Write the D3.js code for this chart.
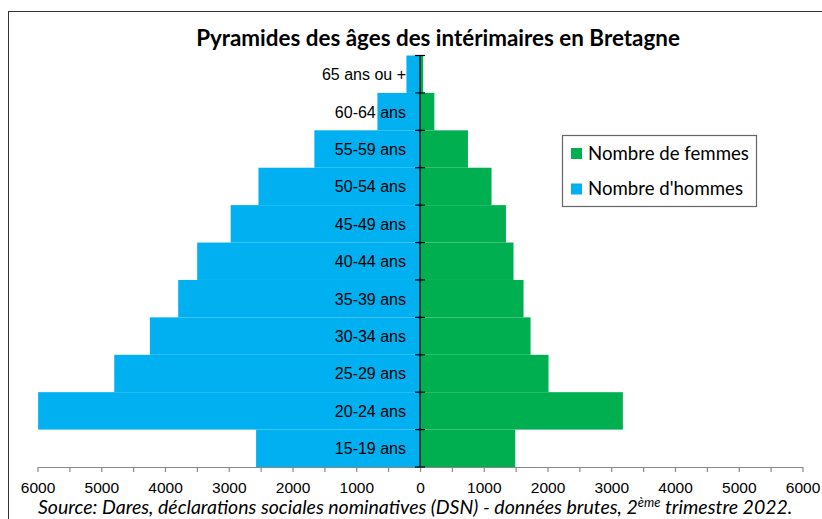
<!DOCTYPE html>
<html>
<head>
<meta charset="utf-8">
<script src="https://cdn.jsdelivr.net/npm/d3@7"></script>
<style>
  html, body { margin: 0; padding: 0; background: #fff; }
  svg { display: block; }
</style>
</head>
<body>
<svg id="chart" width="822" height="519"></svg>
<script>
// ---- Data ----
const categories = ["65 ans ou +", "60-64 ans", "55-59 ans", "50-54 ans", "45-49 ans", "40-44 ans",
                    "35-39 ans", "30-34 ans", "25-29 ans", "20-24 ans", "15-19 ans"];
const hommes = [213, 668, 1657, 2534, 2970, 3495, 3793, 4237, 4796, 5990, 2571];
const femmes = [50, 225, 752, 1122, 1348, 1467, 1624, 1734, 2016, 3182, 1494];
const tickValues = d3.range(-6000, 6001, 500);
const titleText = "Pyramides des âges des intérimaires en Bretagne";
const legendLabels = ["Nombre de femmes", "Nombre d'hommes"];

// ---- Layout ----
const W = 822, H = 519;
const svg = d3.select("#chart");
const colH = "#00B0F0", colF = "#00B050";

const x = d3.scaleLinear().domain([-6000, 6000]).range([37.5, 802.5]);
const y = d3.scaleBand().domain(categories).range([55.5, 467]).padding(0);

// frame
svg.append("rect").attr("x", 8.5).attr("y", 11.5).attr("width", 830).attr("height", 520)
  .attr("fill", "none").attr("stroke", "#333").attr("stroke-width", 1);

// Title
const title = svg.append("text").attr("x", 438).attr("y", 45.5).attr("text-anchor", "middle")
  .attr("font-family", "Lato, 'Open Sans', sans-serif").attr("font-weight", "bold")
  .attr("font-size", 21).attr("fill", "#000").text(titleText);
function fitWidth(sel, target) {
  const n = sel.node();
  const fs = parseFloat(sel.attr("font-size"));
  const w = n.getComputedTextLength();
  if (w > 0) sel.attr("font-size", (fs * target / w).toFixed(2));
}
fitWidth(title, 484);

// Bars - hommes (left)
svg.append("g").selectAll("rect").data(categories).join("rect")
  .attr("x", (d, i) => x(-hommes[i]))
  .attr("y", d => y(d))
  .attr("width", (d, i) => x(0) - x(-hommes[i]))
  .attr("height", y.bandwidth())
  .attr("fill", colH);

// Bars - femmes (right)
svg.append("g").selectAll("rect").data(categories).join("rect")
  .attr("x", x(0))
  .attr("y", d => y(d))
  .attr("width", (d, i) => x(femmes[i]) - x(0))
  .attr("height", y.bandwidth())
  .attr("fill", colF);

// Category labels
svg.append("g").selectAll("text").data(categories).join("text")
  .attr("x", x(0) - 14)
  .attr("y", d => y(d) + y.bandwidth() / 2 + 6)
  .attr("text-anchor", "end")
  .attr("font-family", "'Liberation Sans', Arial, sans-serif")
  .attr("font-size", 16)
  .attr("fill", "#000")
  .text(d => d);

// Horizontal axis
const xAxis = d3.axisBottom(x).tickValues(tickValues).tickSize(5).tickSizeOuter(0)
  .tickFormat(d => (d % 1000 === 0 ? String(Math.abs(d)) : ""));
const gx = svg.append("g").attr("transform", "translate(0,467)").call(xAxis);
gx.select(".domain").attr("stroke", "#888").attr("stroke-width", 1.2);
gx.selectAll(".tick line").attr("stroke", "#888").attr("stroke-width", 1.2);
gx.selectAll(".tick text")
  .attr("y", 26).attr("dy", 0)
  .attr("fill", "#000")
  .attr("font-family", "'Liberation Sans Narrow', 'Arial Narrow', 'Liberation Sans', sans-serif")
  .attr("font-size", 15.5);

// Vertical axis with crossing ticks at band boundaries
const gy = svg.append("g");
gy.append("line").attr("x1", x(0)).attr("x2", x(0)).attr("y1", 55.5).attr("y2", 467)
  .attr("stroke", "#000").attr("stroke-width", 1.3);
const bounds = categories.map(c => y(c)).concat([467]);
gy.selectAll("line.t").data(bounds).join("line").attr("class", "t")
  .attr("x1", x(0) - 5).attr("x2", x(0) + 5)
  .attr("y1", d => d).attr("y2", d => d)
  .attr("stroke", "#000").attr("stroke-width", 1.2);

// Legend
const lg = svg.append("g");
lg.append("rect").attr("x", 562.5).attr("y", 135.5).attr("width", 194).attr("height", 71)
  .attr("fill", "#fff").attr("stroke", "#666").attr("stroke-width", 1.2);
const legCols = [colF, colH];
const legBase = [159.5, 195];
legendLabels.forEach((lab, i) => {
  lg.append("rect").attr("x", 571).attr("y", legBase[i] - 11.5).attr("width", 11).attr("height", 11)
    .attr("fill", legCols[i]);
  const t = lg.append("text").attr("x", 588).attr("y", legBase[i])
    .attr("font-family", "Lato, 'Open Sans', sans-serif").attr("font-size", 19)
    .attr("fill", "#000").text(lab);
  if (i === 0) fitWidth(t, 161);
  else t.attr("font-size", lg.select("text").attr("font-size"));
});

// Source
const src = svg.append("text").attr("x", 38).attr("y", 514)
  .attr("font-family", "Lato, 'Open Sans', sans-serif").attr("font-style", "italic")
  .attr("font-size", 18).attr("fill", "#000");
src.append("tspan").text("Source: Dares, déclarations sociales nominatives (DSN) - données brutes, 2");
src.append("tspan").attr("dy", -7).attr("font-size", 12).text("ème");
src.append("tspan").attr("dy", 7).text(" trimestre 2022.");
// fit width
(function () {
  const w = src.node().getComputedTextLength();
  const target = 755;
  if (w > 0) {
    const k = target / w;
    src.attr("font-size", (18 * k).toFixed(2));
    src.select("tspan:nth-child(2)").attr("font-size", (12 * k).toFixed(2));
  }
})();
</script>
</body>
</html>
